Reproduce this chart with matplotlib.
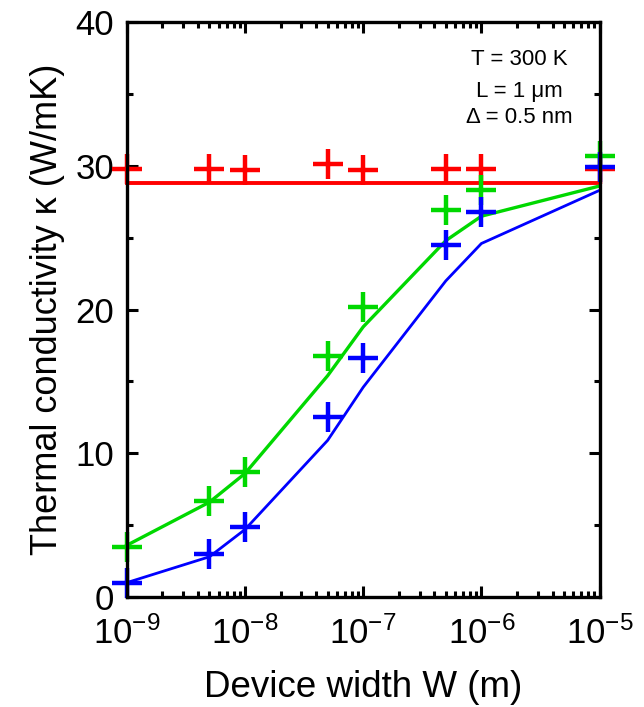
import numpy as np
import matplotlib.pyplot as plt
from matplotlib.ticker import LogLocator, FixedLocator, NullFormatter

plt.rcParams['font.family'] = ['Liberation Sans', 'DejaVu Sans']
plt.rcParams['mathtext.fontset'] = 'custom'
plt.rcParams['mathtext.rm'] = 'Liberation Sans'
plt.rcParams['mathtext.it'] = 'Liberation Sans'

# device widths (m)
width = [1e-9, 5e-9, 1e-8, 5e-8, 1e-7, 5e-7, 1e-6, 1e-5]

# simulation points (+ markers)
red_pts = [29.8, 29.8, 29.7, 30.1, 29.7, 29.8, 29.8, 29.8]
green_pts = [3.5, 6.7, 8.7, 16.8, 20.2, 26.9, 28.3, 30.7]
blue_pts = [1.0, 3.0, 4.9, 12.5, 16.6, 24.5, 26.8, 29.9]

# model curves
red_line = [28.8, 28.8, 28.8, 28.8, 28.8, 28.8, 28.8, 28.8]
green_line = [3.6, 6.6, 8.6, 15.4, 18.8, 24.8, 26.5, 28.6]
blue_line = [1.0, 2.8, 4.7, 10.9, 14.6, 22.0, 24.6, 28.3]

x_ticks = [1e-9, 1e-8, 1e-7, 1e-6, 1e-5]
x_labels = ['10$^{-9}$', '10$^{-8}$', '10$^{-7}$', '10$^{-6}$', '10$^{-5}$']
y_ticks = [0, 10, 20, 30, 40]

fig = plt.figure(figsize=(6.44, 7.07), dpi=100)
ax = fig.add_axes([0.197, 0.1556, 0.734, 0.813])

mk = dict(marker='+', markersize=21, markeredgewidth=3.2, linestyle='none', clip_on=False)
ax.plot(width, red_line, color='#ff0000', lw=2.8, clip_on=False)
ax.plot(width, green_line, color='#00d800', lw=2.4, clip_on=False)
ax.plot(width, blue_line, color='#0000ff', lw=2.0, clip_on=False)
ax.plot(width, red_pts, color='#ff0000', **mk)
ax.plot(width, green_pts, color='#00d800', **mk)
ax.plot(width, blue_pts, color='#0000ff', **mk)

ax.set_xscale('log')
ax.set_xlim(1e-9, 1e-5)
ax.set_ylim(0, 40)
ax.xaxis.set_major_locator(FixedLocator(x_ticks))
ax.set_xticklabels(x_labels)
ax.xaxis.set_minor_locator(LogLocator(base=10, subs=np.arange(2, 10)))
ax.xaxis.set_minor_formatter(NullFormatter())
ax.set_yticks(y_ticks)
ax.set_yticks([5, 15, 25, 35], minor=True)

ax.tick_params(which='both', direction='in', top=True, right=True, width=2.2,
               labelsize=25)
ax.tick_params(axis='x', pad=14)
ax.tick_params(axis='y', pad=9)
ax.tick_params(which='major', length=8)
ax.tick_params(which='minor', length=4.5)
for s in ax.spines.values():
    s.set_linewidth(2.4)

ax.set_xlabel('Device width W (m)', fontsize=26.5, labelpad=14)
ax.set_ylabel('Thermal conductivity κ (W/mK)', fontsize=26, labelpad=8)

ax.text(0.83, 0.935, 'T = 300 K', transform=ax.transAxes, ha='center', va='center', fontsize=16)
ax.text(0.83, 0.88, 'L = 1 μm', transform=ax.transAxes, ha='center', va='center', fontsize=16)
ax.text(0.83, 0.835, 'Δ = 0.5 nm', transform=ax.transAxes, ha='center', va='center', fontsize=16)

fig.savefig('out.png', dpi=100)
